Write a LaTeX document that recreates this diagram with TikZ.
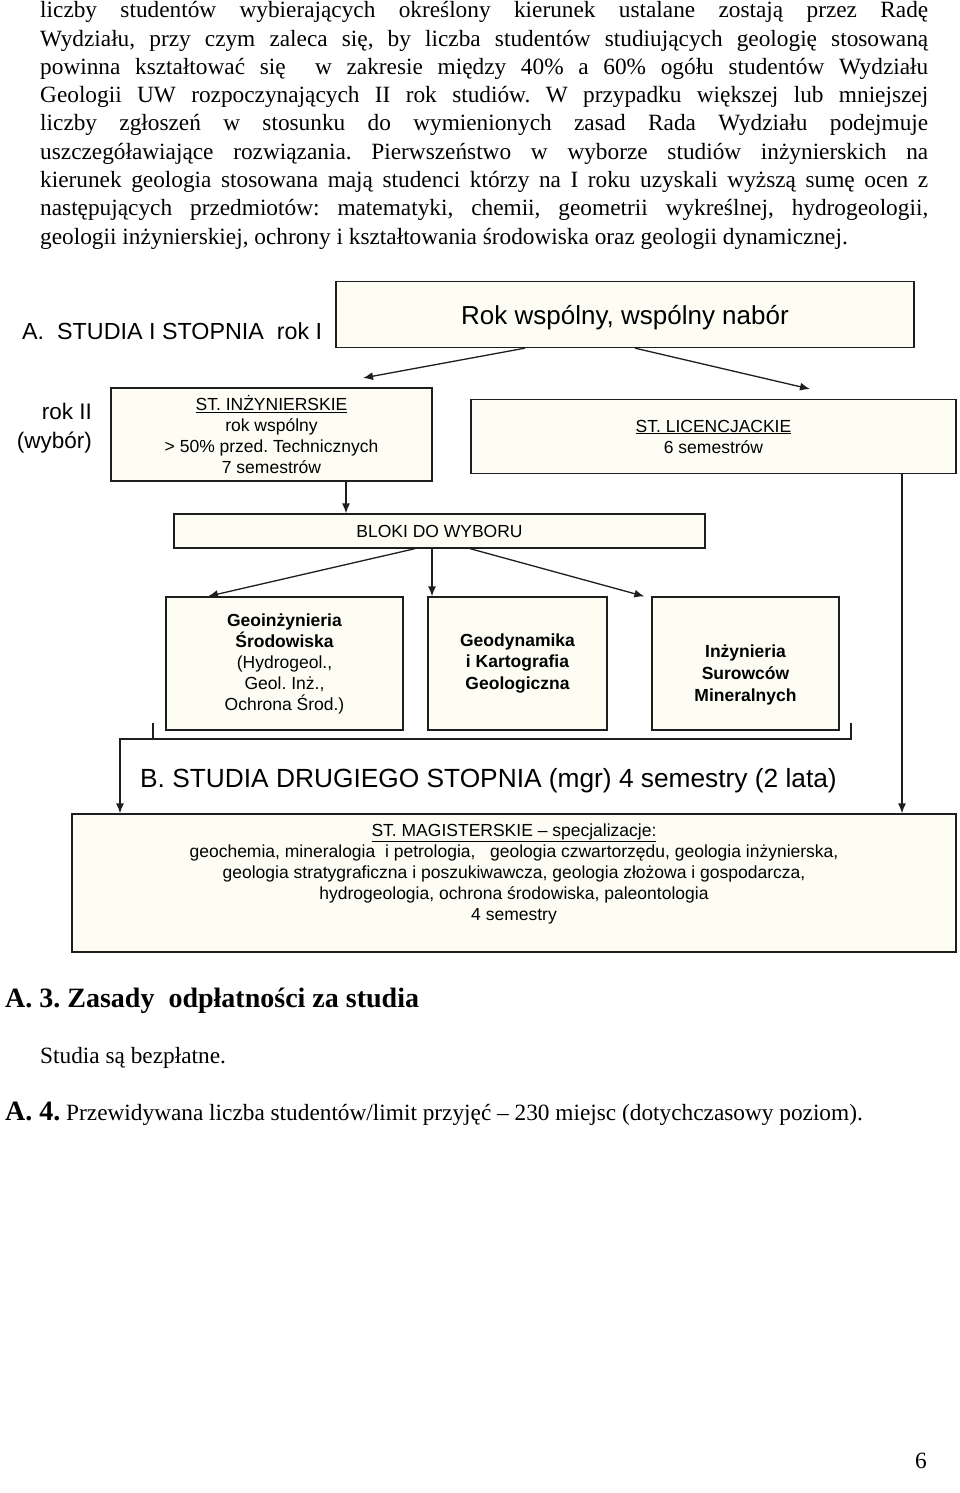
\documentclass[tikz,border=0pt]{standalone}
\usepackage{fontspec}
\setmainfont{Liberation Serif}
\setsansfont{Liberation Sans}
\usetikzlibrary{arrows.meta}
\definecolor{boxfill}{RGB}{254,253,244}
\definecolor{linegray}{RGB}{30,30,30}
\tikzset{
  box/.style={draw=linegray, line width=1.3pt, fill=boxfill, inner sep=0pt, align=center,
    font=\sffamily\fontsize{17.5}{21}\selectfont},
  link/.style={draw=linegray, line width=1.3pt},
  arr/.style={link, -{Latex[length=10pt,width=8pt]}},
  body/.style={anchor=base west, inner sep=0pt, font=\fontsize{23.3}{28}\selectfont},
}
\frenchspacing
\begin{document}
\begin{tikzpicture}[x=1pt,y=-1pt]
\path[fill=white] (0,0) rectangle (960,1493);
% running text above the scheme
\foreach \t [count=\i from 0] in {
  {liczby studentów wybierających określony kierunek ustalane zostają przez Radę},
  {Wydziału, przy czym zaleca się, by liczba studentów studiujących geologię stosowaną},
  {powinna kształtować się \ w zakresie między 40\% a 60\% ogółu studentów Wydziału},
  {Geologii UW rozpoczynających II rok studiów. W przypadku większej lub mniejszej},
  {liczby zgłoszeń w stosunku do wymienionych zasad Rada Wydziału podejmuje},
  {uszczegóławiające rozwiązania. Pierwszeństwo w wyborze studiów inżynierskich na},
  {kierunek geologia stosowana mają studenci którzy na I roku uzyskali wyższą sumę ocen z},
  {następujących przedmiotów: matematyki, chemii, geometrii wykreślnej, hydrogeologii,}}
  \node[body] (par\i) at (40,18+28.25*\i) {\makebox[888pt][s]{\t}};
\node[body] (par8) at (40,244) {geologii inżynierskiej, ochrony i kształtowania środowiska oraz geologii dynamicznej.};

% first level
\node[anchor=base west, inner sep=0pt, font=\sffamily\fontsize{23.3}{28}\selectfont] (studA) at (22,339) {A.\ \ STUDIA I STOPNIA\ \ rok I};
\node[box, minimum width=578pt, minimum height=66pt, text height=26pt, font=\sffamily\fontsize{26}{30}\selectfont] (rok) at (625,314.5) {Rok wspólny, wspólny nabór};
\node[anchor=east, inner sep=0pt, align=right, font=\sffamily\fontsize{22.5}{29}\selectfont] (rokII) at (92,428) {rok II\\(wybór)};
\node[box, minimum width=321pt, minimum height=93pt] (inz) at (271.5,434.5) {\underline{ST. INŻYNIERSKIE}\\rok wspólny\\> 50\% przed. Technicznych\\7 semestrów};
\node[box, minimum width=485pt, minimum height=74pt] (lic) at (713.5,436.5) {\underline{ST. LICENCJACKIE}\\6 semestrów};
\coordinate (tipA) at (363,378);
\coordinate (tipB) at (810,389);
\draw[arr] ([xshift=-100pt]rok.south) -- (tipA);
\draw[arr] ([xshift=10pt]rok.south) -- (tipB);

% blocks
\node[box, minimum width=531pt, minimum height=34pt] (blok) at (439.5,531) {BLOKI DO WYBORU};
\node[box, minimum width=237pt, minimum height=133pt] (geo) at (284.5,663.5) {\textbf{Geoinżynieria}\\\textbf{Środowiska}\\(Hydrogeol.,\\Geol. Inż.,\\Ochrona Środ.)};
\node[box, minimum width=179pt, minimum height=133pt, font=\sffamily\bfseries\fontsize{17.5}{21.5}\selectfont] (dyn) at (517.5,663.5) {Geodynamika\\i Kartografia\\Geologiczna};
\node[box, minimum width=187pt, minimum height=133pt] (sur) at (745.5,663.5) {};
\node[align=center, inner sep=0pt, font=\sffamily\bfseries\fontsize{17.5}{22}\selectfont] (surtxt) at ([yshift=-11pt]sur.center) {Inżynieria\\Surowców\\Mineralnych};
\draw[arr] ([xshift=74.5pt]inz.south) -- ([xshift=74.5pt]inz.south |- blok.north);
\draw[arr] ([xshift=-24.5pt]blok.south) -- ([xshift=-76.5pt]geo.north);
\draw[arr] ([xshift=-7.5pt]blok.south) -- ([xshift=-85.5pt]dyn.north);
\draw[arr] ([xshift=30.5pt]blok.south) -- ([xshift=-7pt]sur.north west);

% second level
\node[anchor=base west, inner sep=0pt, font=\sffamily\fontsize{26.3}{30}\selectfont] (studB) at (140,787) {B. STUDIA DRUGIEGO STOPNIA (mgr) 4 semestry (2 lata)};
\node[box, minimum width=884pt, minimum height=138pt] (mag) at (514,883) {};
\node[align=center, inner sep=0pt, font=\sffamily\fontsize{17.5}{21}\selectfont] (magtxt) at ([yshift=9.5pt]mag.center) {\underline{ST. MAGISTERSKIE – specjalizacje:}\\geochemia, mineralogia\ \ i petrologia,\ \ \ geologia czwartorzędu, geologia inżynierska,\\geologia stratygraficzna i poszukiwawcza, geologia złożowa i gospodarcza,\\hydrogeologia, ochrona środowiska, paleontologia\\4 semestry};
\draw[arr] ([xshift=188.5pt]lic.south) -- ([xshift=188.5pt]lic.south |- mag.north);
% bracket under the blocks
\coordinate (brL) at (153,723);
\coordinate (brR) at (851,723);
\coordinate (brC) at (120,739);
\draw[link] (brL) -- (brL |- brC);
\draw[arr] (brR) |- (brC) -- (brC |- mag.north);

% text below
\node[body, font=\bfseries\fontsize{28}{32}\selectfont] (a3) at (5,1007) {A. 3. Zasady\ \ odpłatności za studia};
\node[body] (free) at (40,1063) {Studia są bezpłatne.};
\node[body] (a4) at (5,1120) {{\bfseries\fontsize{28}{32}\selectfont A. 4.} Przewidywana liczba studentów/limit przyjęć – 230 miejsc (dotychczasowy poziom).};
\node[body] (pnum) at (915,1468) {6};
\end{tikzpicture}
\end{document}
